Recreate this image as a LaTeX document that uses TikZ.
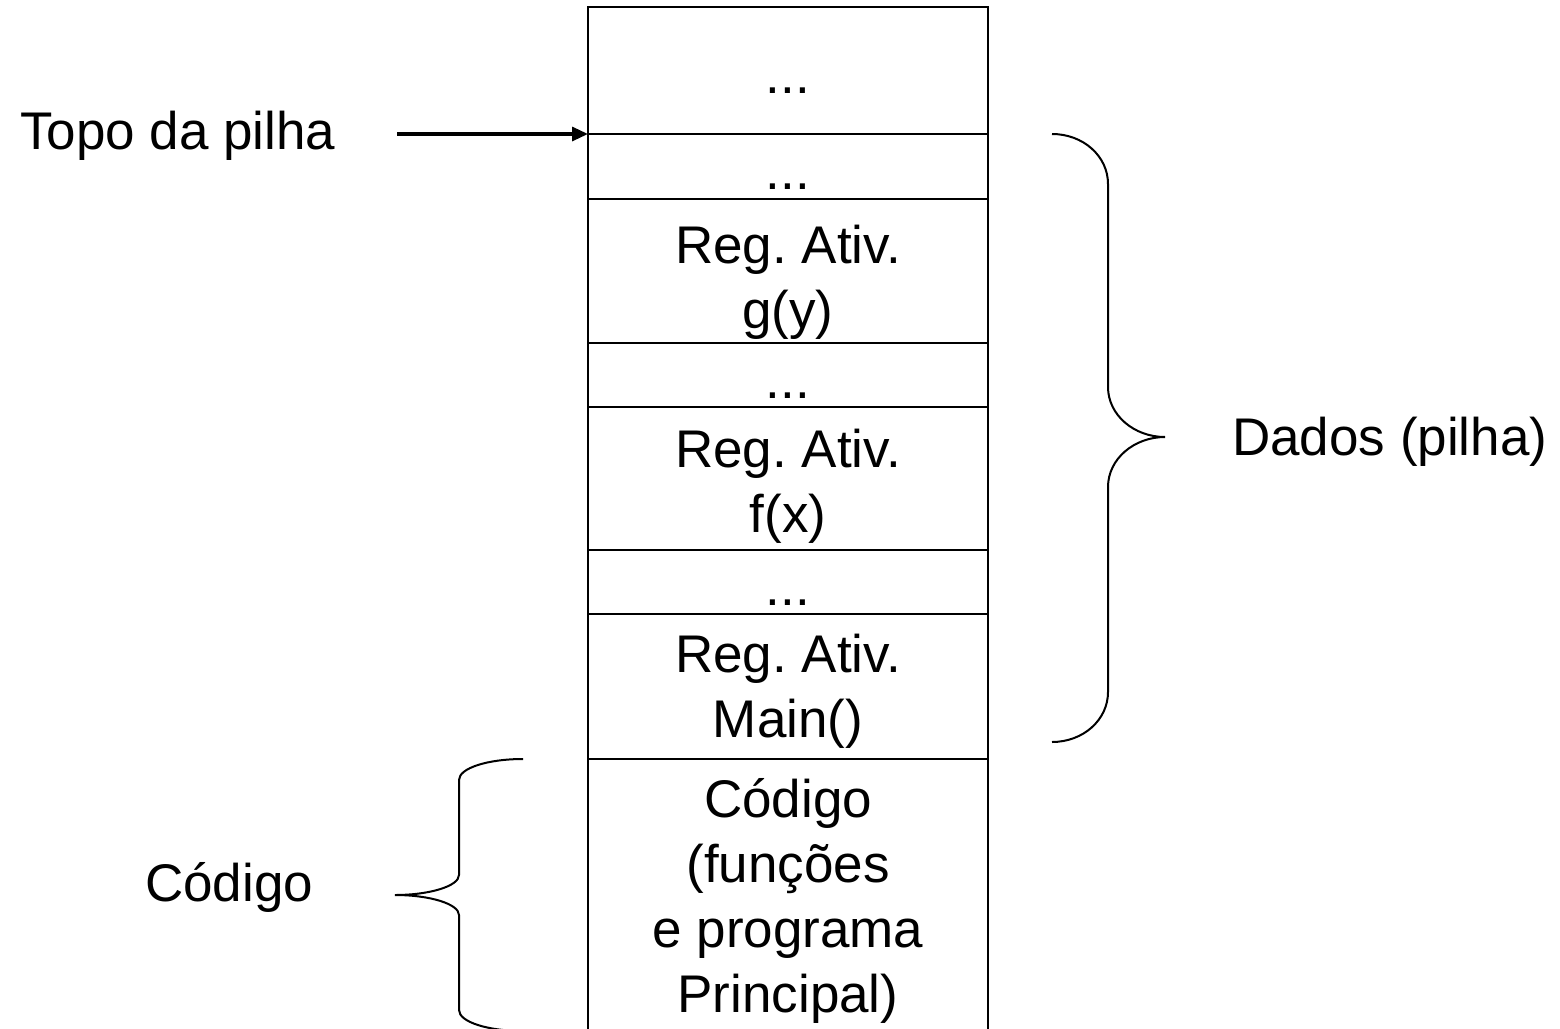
\documentclass[tikz,border=0pt]{standalone}
\usepackage{fontspec}
\setmainfont{Liberation Sans}
\usetikzlibrary{arrows.meta}
\frenchspacing
\begin{document}
\begin{tikzpicture}[x=1pt,y=-1pt,
  lbl/.style={inner sep=0pt, font=\fontsize{53}{65}\selectfont},
  celltext/.style={lbl, align=center, anchor=center},
  boxline/.style={line width=2.5pt},
  braceline/.style={line width=2pt},
  ptr/.style={line width=3.2pt, -{Triangle[length=16pt,width=14pt]}}]
\useasboundingbox (0,0) rectangle (1560,1028);
\clip (0,0) rectangle (1560,1028);
% stack column
\draw[boxline] (588,1040) -- (588,7) -- (988,7) -- (988,1040);
\foreach \yy in {134,199,343,407,550,614,759}
  \draw[boxline] (588,\yy) -- (988,\yy);
% cell texts
\node[celltext] (t1) at (788,91) {...};
\node[celltext] (t2) at (788,187) {...};
\node[celltext] (t3) at (788,282) {Reg. Ativ.\\g(y)};
\node[celltext] (t4) at (788,396) {...};
\node[celltext] (t5) at (788,486) {Reg. Ativ.\\f(x)};
\node[celltext] (t6) at (788,603) {...};
\node[celltext] (t7) at (788,691) {Reg. Ativ.\\Main()};
\node[celltext] (t8) at (788,901) {Código\\(funções\\e programa\\Principal)};
% labels
\node[lbl, anchor=base west] (topo) at (20,149) {Topo da pilha};
\node[lbl, anchor=base west] (dados) at (1232,455) {Dados (pilha)};
\node[lbl, anchor=base west] (codigo) at (145,901) {Código};
% pointer arrow
\coordinate (arrs) at (397,134);
\coordinate (arre) at (588,134);
\draw[ptr] (arrs) -- (arre);
% right brace
\coordinate (rtop) at (1052,134);
\coordinate (rtip) at (1165,437);
\coordinate (rbot) at (1052,742);
\draw[braceline] (rtop) .. controls (1083,134) and (1108,156) .. (1108,184)
  -- (1108,387) .. controls (1108,415) and (1134,437) .. (rtip)
  .. controls (1134,437) and (1108,459) .. (1108,487)
  -- (1108,692) .. controls (1108,720) and (1083,742) .. (rbot);
% left brace
\coordinate (ltop) at (523,759);
\coordinate (ltip) at (395,895);
\coordinate (lbot) at (523,1031);
\draw[braceline] (ltop) .. controls (488,759) and (459,768) .. (459,780)
  -- (459,875) .. controls (459,886) and (430,895) .. (ltip)
  .. controls (430,895) and (459,904) .. (459,915)
  -- (459,1010) .. controls (459,1022) and (488,1031) .. (lbot);
\end{tikzpicture}
\end{document}
